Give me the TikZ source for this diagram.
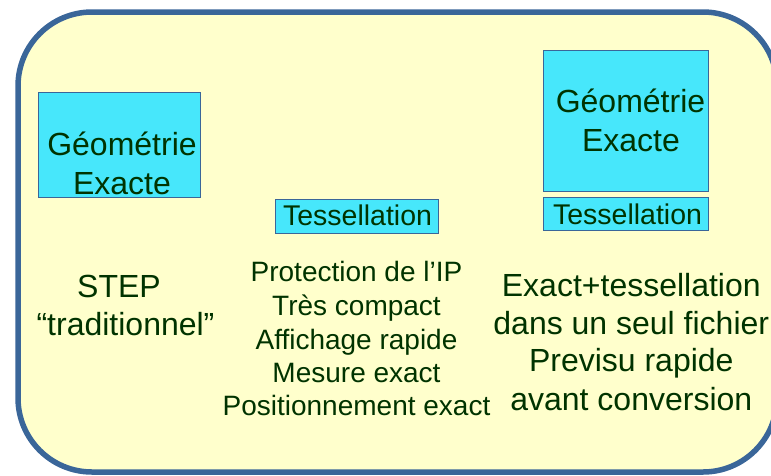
\documentclass[tikz,border=0pt]{standalone}
\usepackage{fontspec}
\setmainfont{Liberation Sans}
\definecolor{frameblue}{RGB}{58,102,153}
\definecolor{paleyellow}{RGB}{255,255,204}
\definecolor{boxcyan}{RGB}{71,231,251}
\definecolor{textgreen}{RGB}{0,51,0}
\tikzset{
  cbox/.style={draw=frameblue, line width=1pt, fill=boxcyan, inner sep=0pt},
  big/.style={text=textgreen, inner sep=0pt, anchor=base, font=\fontsize{32}{38}\selectfont},
  mid/.style={text=textgreen, inner sep=0pt, anchor=base, font=\fontsize{28}{34}\selectfont},
  tess/.style={text=textgreen, inner sep=0pt, anchor=base, font=\fontsize{28.5}{34}\selectfont},
}
\begin{document}
\begin{tikzpicture}[x=1pt,y=-1pt]
\clip (0,0) rectangle (771,475);
\draw[draw=frameblue, fill=paleyellow, line width=5.5pt, rounded corners=74pt] (18,12) rectangle (777,472);
% boxes
\node[cbox, minimum width=162pt, minimum height=105pt] (geoA) at (119,144.5) {};
\node[cbox, minimum width=163pt, minimum height=34pt] (tessB) at (356.5,216) {};
\node[cbox, minimum width=165pt, minimum height=141pt] (geoC) at (625.5,120.5) {};
\node[cbox, minimum width=165pt, minimum height=33pt] (tessC) at (625.5,213.5) {};
% box labels
\node[big] (geoA1) at (122,155) {Géométrie};
\node[big] (geoA2) at (122,194) {Exacte};
\node[tess] (tessB1) at (357.5,225) {Tessellation};
\node[big] (geoC1) at (630.5,112.3) {Géométrie};
\node[big] (geoC2) at (631,151.7) {Exacte};
\node[tess] (tessC1) at (627.5,224) {Tessellation};
% left column
\node[big] (stepA) at (119,297.3) {STEP};
\node[big] (stepB) at (125.5,335) {“traditionnel”};
% middle column
\node[mid] (m1) at (356.5,281.7) {Protection de l’IP};
\node[mid] (m2) at (356.5,315) {Très compact};
\node[mid] (m3) at (356.5,349.3) {Affichage rapide};
\node[mid] (m4) at (356.5,382.7) {Mesure exact};
\node[mid] (m5) at (356.5,415.7) {Positionnement exact};
% right column
\node[big] (r1) at (631.3,296.7) {Exact+tessellation};
\node[big] (r2) at (631.3,334) {dans un seul fichier};
\node[big] (r3) at (631.3,371.7) {Previsu rapide};
\node[big] (r4) at (631.3,410) {avant conversion};
\end{tikzpicture}
\end{document}
